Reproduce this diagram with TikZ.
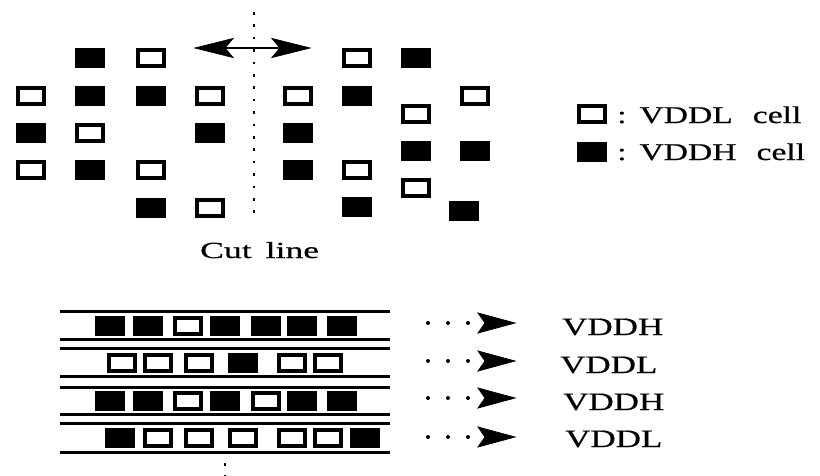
\documentclass[tikz,border=0pt]{standalone}
\usepackage{fontspec}
\setmainfont{Liberation Serif}
\newfontfamily\widefont[FakeStretch=1.4,FakeBold=0.6]{Liberation Serif}
\newfontfamily\widerfont[FakeStretch=1.55,FakeBold=0.6]{Liberation Serif}
\usetikzlibrary{arrows.meta}
\begin{document}
\begin{tikzpicture}[x=1pt,y=-1pt,
  cellbox/.style={draw=black, line width=4pt, minimum width=26pt, minimum height=16pt, inner sep=0pt, outer sep=0pt},
  lcell/.style={cellbox, fill=white},
  hcell/.style={cellbox, fill=black},
  cutdots/.style={line width=2.5pt, dash pattern=on 2.5pt off 9.9pt},
  rail/.style={line width=3pt},
  rowdots/.style={line width=4pt, line cap=round, dash pattern=on 0pt off 20pt},
  bighead/.style={fill=black, draw=black, line width=0.8pt, line join=miter},
  shaft/.style={line width=2.2pt},
  lbl/.style={anchor=base west, inner sep=0pt, font=\widefont\fontsize{24}{24}\selectfont},
  rowlbl/.style={anchor=base west, inner sep=0pt, font=\widefont\fontsize{25}{25}\selectfont},
  cutlbl/.style={anchor=base west, inner sep=0pt, font=\widerfont\fontsize{23}{23}\selectfont}
]
\useasboundingbox (0,0) rectangle (820,475);

% cut line (top)
\coordinate (cutTop) at (254,12);
\coordinate (cutBot) at (254,214);
\draw[cutdots] (cutTop) -- (cutBot);

% double arrow
\coordinate (arrL) at (195,48);
\coordinate (arrR) at (310,48);
\draw[shaft] ([xshift=20pt]arrL) -- ([xshift=-20pt]arrR);
\fill[bighead] (arrL) -- ++(38,-9.5) -- ++(-8,9.5) -- ++(8,9.5) -- cycle;
\fill[bighead] (arrR) -- ++(-38,-9.5) -- ++(8,9.5) -- ++(-8,9.5) -- cycle;

% top-left cells
\foreach \n/\x/\y/\t in {
  a1/90/58/hcell, a2/151/58/lcell,
  a3/31/96/lcell, a4/90/96/hcell, a5/151/96/hcell, a6/210/96/lcell,
  a7/31/133/hcell, a8/90/133/lcell, a9/210/133/hcell,
  a10/31/170/lcell, a11/90/170/hcell, a12/151/170/lcell,
  a13/151/208/hcell, a14/210/208/lcell}
  \node[\t] (\n) at (\x,\y) {};

% top-right cells
\foreach \n/\x/\y/\t in {
  b1/357/58/lcell, b2/416/58/hcell,
  b3/298/96/lcell, b4/357/96/hcell, b5/475/96/lcell,
  b6/416/114/lcell,
  b7/298/133/hcell,
  b8/416/151/hcell, b9/475/151/hcell,
  b10/298/170/hcell, b11/357/170/lcell,
  b12/416/188/lcell,
  b13/357/207/hcell,
  b14/464/211/hcell}
  \node[\t] (\n) at (\x,\y) {};

% legend
\node[lcell] (legL) at (592,114) {};
\node[hcell] (legH) at (592,152) {};
\node[lbl] (legLt) at (617,123) {:\hspace{13pt}VDDL\hspace{20pt}cell};
\node[lbl] (legHt) at (617,160) {:\hspace{13pt}VDDH\hspace{20pt}cell};

% cut line label
\node[cutlbl] (cutlabel) at (200,258) {Cut\hspace{14pt}line};

% rails
\foreach \n/\y in {r1/311, r2/339, r3/348, r4/376, r5/387, r6/414, r7/423, r8/452} {
  \coordinate (\n L) at (60,\y);
  \coordinate (\n R) at (390,\y);
  \draw[rail] (\n L) -- (\n R);
}

% row 1
\foreach \n/\x/\t in {c1/110/hcell, c2/147.5/hcell, c3/188/lcell, c4/225/hcell, c5/265.5/hcell, c6/302/hcell, c7/342/hcell}
  \node[\t] (\n) at (\x,325.5) {};
% row 2
\foreach \n/\x/\t in {d1/122/lcell, d2/157.5/lcell, d3/199/lcell, d4/243/hcell, d5/292/lcell, d6/327.5/lcell}
  \node[\t] (\n) at (\x,362.5) {};
% row 3
\foreach \n/\x/\t in {e1/110/hcell, e2/147.5/hcell, e3/188/lcell, e4/225/hcell, e5/265.5/lcell, e6/302/hcell, e7/342/hcell}
  \node[\t] (\n) at (\x,401) {};
% row 4
\foreach \n/\x/\t in {f1/120/hcell, f2/157.5/lcell, f3/199/lcell, f4/243/lcell, f5/292/lcell, f6/327.5/lcell, f7/364.5/hcell}
  \node[\t] (\n) at (\x,437.5) {};

% bottom cut line continuation
\coordinate (bcTop) at (225,463);
\coordinate (bcBot) at (225,476);
\draw[cutdots] (bcTop) -- (bcBot);

% row arrows
\foreach \i/\y in {1/323, 2/361, 3/398, 4/437} {
  \coordinate (ds\i) at (428,\y);
  \coordinate (de\i) at (470,\y);
  \coordinate (he\i) at (515,\y);
  \draw[rowdots] (ds\i) -- (de\i);
  \fill[bighead] (he\i) -- ++(-37,-10) -- ++(7,10) -- ++(-7,10) -- cycle;
}
\node[rowlbl] (v1) at (562,335) {VDDH};
\node[rowlbl] (v2) at (560,373) {VDDL};
\node[rowlbl] (v3) at (563,410) {VDDH};
\node[rowlbl] (v4) at (565,447) {VDDL};
\end{tikzpicture}
\end{document}
